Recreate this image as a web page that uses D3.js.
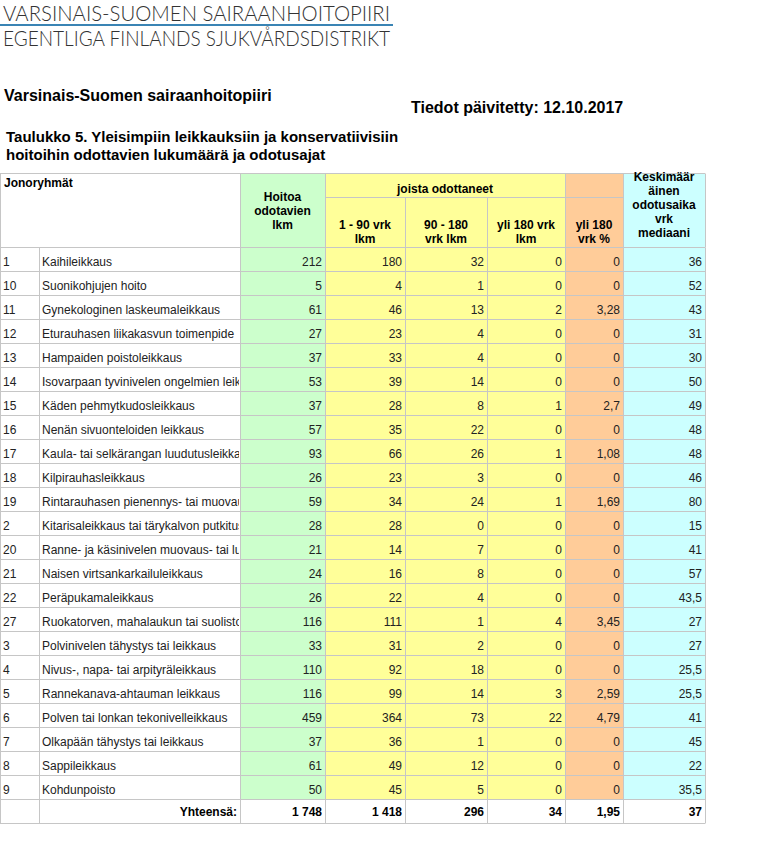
<!DOCTYPE html>
<html>
<head>
<meta charset="utf-8">
<script src="https://cdn.jsdelivr.net/npm/d3@7"></script>
<style>
  body { margin: 0; background: #fff; }
  text { font-family: "Liberation Sans", Arial, sans-serif; }
</style>
</head>
<body>
<div id="viz"></div>
<script>
// jonoryhmät ja luvut, luettu taulukosta
const codes = ["1","10","11","12","13","14","15","16","17","18","19","2","20","21","22","27","3","4","5","6","7","8","9"];
const groups = [
  "Kaihileikkaus",
  "Suonikohjujen hoito",
  "Gynekologinen laskeumaleikkaus",
  "Eturauhasen liikakasvun toimenpide",
  "Hampaiden poistoleikkaus",
  "Isovarpaan tyvinivelen ongelmien leikkaus",
  "Käden pehmytkudosleikkaus",
  "Nenän sivuonteloiden leikkaus",
  "Kaula- tai selkärangan luudutusleikkaus",
  "Kilpirauhasleikkaus",
  "Rintarauhasen pienennys- tai muovausleikkaus",
  "Kitarisaleikkaus tai tärykalvon putkitus",
  "Ranne- ja käsinivelen muovaus- tai luudutusleikkaus",
  "Naisen virtsankarkailuleikkaus",
  "Peräpukamaleikkaus",
  "Ruokatorven, mahalaukun tai suoliston leikkaus",
  "Polvinivelen tähystys tai leikkaus",
  "Nivus-, napa- tai arpityräleikkaus",
  "Rannekanava-ahtauman leikkaus",
  "Polven tai lonkan tekonivelleikkaus",
  "Olkapään tähystys tai leikkaus",
  "Sappileikkaus",
  "Kohdunpoisto"
];
const waiting   = [212, 5, 61, 27, 37, 53, 37, 57, 93, 26, 59, 28, 21, 24, 26, 116, 33, 110, 116, 459, 37, 61, 50];
const wait1_90  = [180, 4, 46, 23, 33, 39, 28, 35, 66, 23, 34, 28, 14, 16, 22, 111, 31, 92, 99, 364, 36, 49, 45];
const wait90_180 = [32, 1, 13, 4, 4, 14, 8, 22, 26, 3, 24, 0, 7, 8, 4, 1, 2, 18, 14, 73, 1, 12, 5];
const over180   = [0, 0, 2, 0, 0, 0, 1, 0, 1, 0, 1, 0, 0, 0, 0, 4, 0, 0, 3, 22, 0, 0, 0];
const over180pct = [0, 0, 3.28, 0, 0, 0, 2.7, 0, 1.08, 0, 1.69, 0, 0, 0, 0, 3.45, 0, 0, 2.59, 4.79, 0, 0, 0];
const median    = [36, 52, 43, 31, 30, 50, 49, 48, 48, 46, 80, 15, 41, 57, 43.5, 27, 27, 25.5, 25.5, 41, 45, 22, 35.5];
const totals    = [1748, 1418, 296, 34, 1.95, 37];

const width = 759, height = 861;
const svg = d3.select("#viz").append("svg").attr("width", width).attr("height", height);

const fi = d3.formatLocale({decimal: ",", thousands: " ", grouping: [3], currency: ["", " €"]});
const fmt = fi.format(",~f");

// logo
svg.append("text").attr("x", 3).attr("y", 21)
  .attr("textLength", 387).attr("lengthAdjust", "spacingAndGlyphs")
  .style("font-family", "Lato, 'Open Sans', sans-serif").style("font-weight", 300)
  .style("font-size", "21px").attr("fill", "#333")
  .text("VARSINAIS-SUOMEN SAIRAANHOITOPIIRI");
svg.append("line").attr("x1", 0).attr("x2", 393).attr("y1", 25).attr("y2", 25)
  .attr("stroke", "#3a84b4").attr("stroke-width", 2);
svg.append("text").attr("x", 3).attr("y", 46)
  .attr("textLength", 387).attr("lengthAdjust", "spacingAndGlyphs")
  .style("font-family", "Lato, 'Open Sans', sans-serif").style("font-weight", 300)
  .style("font-size", "21px").attr("fill", "#333")
  .text("EGENTLIGA FINLANDS SJUKVÅRDSDISTRIKT");

// otsikot
const bold = (x, y, s, size, anchor) => svg.append("text")
  .attr("x", x).attr("y", y).attr("text-anchor", anchor || "start")
  .style("font-weight", "bold").style("font-size", size + "px").attr("fill", "#000").text(s);

bold(4, 101, "Varsinais-Suomen sairaanhoitopiiri", 16);
bold(411, 113, "Tiedot päivitetty: 12.10.2017", 16);
bold(6, 142, "Taulukko 5. Yleisimpiin leikkauksiin ja konservatiivisiin", 15);
bold(6, 160, "hoitoihin odottavien lukumäärä ja odotusajat", 15);

// sarakkeet
const cols = ["code", "name", "waiting", "a", "b", "c", "pct", "med"];
const edges = [0, 39, 240, 325, 405, 487, 565, 623, 705];
const x = d3.scaleOrdinal().domain(cols).range(edges.slice(0, -1));
const xr = d3.scaleOrdinal().domain(cols).range(edges.slice(1));
const fills = {waiting: "#ccffcc", a: "#ffff99", b: "#ffff99", c: "#ffff99", pct: "#ffcc99", med: "#ccffff"};

const tableTop = 173.5, headMid = 197.5, headBot = 247.5;
const nRows = codes.length + 1;
const y = d3.scaleBand().domain(d3.range(nRows)).range([headBot, headBot + 24 * nRows]);
const tableBottom = y.range()[1];

// taustat
svg.append("g").selectAll("rect").data(Object.keys(fills)).join("rect")
  .attr("x", d => x(d)).attr("width", d => xr(d) - x(d))
  .attr("y", tableTop).attr("height", y(nRows - 1) - tableTop)
  .attr("fill", d => fills[d]);

// viivat
const grid = svg.append("g").attr("stroke", "#c6c6c6").attr("stroke-width", 1);
grid.append("line").attr("x1", 0).attr("x2", 705).attr("y1", tableTop).attr("y2", tableTop);
grid.append("line").attr("x1", 325).attr("x2", 623).attr("y1", headMid).attr("y2", headMid);
grid.selectAll(".h").data(d3.range(nRows + 1)).join("line")
  .attr("x1", 0).attr("x2", 705)
  .attr("y1", i => (i < nRows ? y(i) : tableBottom))
  .attr("y2", i => (i < nRows ? y(i) : tableBottom));
// pystyviivat otsakkeessa
[0.5, 240.5, 325.5, 565.5, 623.5, 705.5].forEach(v =>
  grid.append("line").attr("x1", v).attr("x2", v).attr("y1", tableTop).attr("y2", headBot));
[405.5, 487.5].forEach(v =>
  grid.append("line").attr("x1", v).attr("x2", v).attr("y1", headMid).attr("y2", headBot));
// pystyviivat riveillä
[0.5, 39.5, 240.5, 325.5, 405.5, 487.5, 565.5, 623.5, 705.5].forEach(v =>
  grid.append("line").attr("x1", v).attr("x2", v).attr("y1", headBot).attr("y2", tableBottom));

// otsakesolut
const head = (cx, lines, y0) => lines.forEach((s, i) => bold(cx, y0 + i * 14, s, 12, "middle"));
bold(4, 187, "Jonoryhmät", 12);
head((240 + 325) / 2, ["Hoitoa", "odotavien", "lkm"], 201);
head((325 + 565) / 2, ["joista odottaneet"], 193);
head((325 + 405) / 2, ["1 - 90 vrk", "lkm"], 229);
head((405 + 487) / 2, ["90 - 180", "vrk lkm"], 229);
head((487 + 565) / 2, ["yli 180 vrk", "lkm"], 229);
head((565 + 623) / 2, ["yli 180", "vrk %"], 229);
head((623 + 705) / 2, ["Keskimäär", "äinen", "odotusaika", "vrk", "mediaani"], 181);

// data
const rows = codes.map((c, i) => ({
  code: c, name: groups[i], waiting: waiting[i], a: wait1_90[i], b: wait90_180[i],
  c: over180[i], pct: over180pct[i], med: median[i]
}));

svg.append("clipPath").attr("id", "nameclip").append("rect")
  .attr("x", x("name")).attr("y", -20).attr("width", xr("name") - x("name") - 1).attr("height", 30);

const body = svg.append("g").style("font-size", "12px").attr("fill", "#222");
const rowG = body.selectAll("g").data(rows).join("g")
  .attr("transform", (d, i) => `translate(0,${y(i) + 18.5})`);

rowG.append("text").attr("x", x("code") + 3).text(d => d.code);
rowG.append("g").attr("clip-path", "url(#nameclip)")
  .append("text").attr("x", x("name") + 3).text(d => d.name);
["waiting", "a", "b", "c", "pct", "med"].forEach(k =>
  rowG.append("text").attr("x", xr(k) - 3).attr("text-anchor", "end").text(d => fmt(d[k])));

// yhteensä
const tot = svg.append("g").attr("transform", `translate(0,${y(nRows - 1) + 16})`)
  .style("font-size", "12px").style("font-weight", "bold").attr("fill", "#000");
tot.append("text").attr("x", xr("name") - 3).attr("text-anchor", "end").text("Yhteensä:");
tot.selectAll(".t").data(["waiting", "a", "b", "c", "pct", "med"]).join("text")
  .attr("x", k => xr(k) - 3).attr("text-anchor", "end")
  .text((k, i) => fmt(totals[i]));
</script>
</body>
</html>
